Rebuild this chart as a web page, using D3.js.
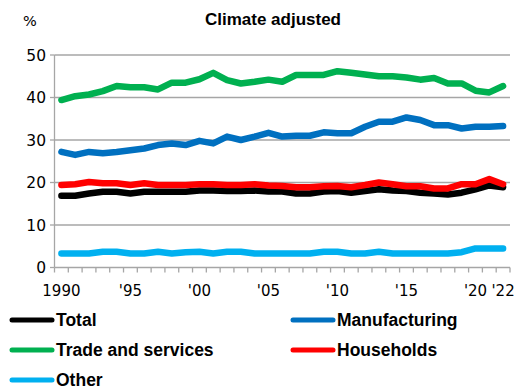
<!DOCTYPE html>
<html><head><meta charset="utf-8">
<script src="https://cdn.jsdelivr.net/npm/d3@7"></script>
<style>body{margin:0;background:#fff}svg{display:block}text{font-family:"DejaVu Sans",Verdana,sans-serif}.b{font-family:"Liberation Sans",Arial,sans-serif;font-weight:bold}</style>
</head><body><div id="c"></div>
<script>
const years = d3.range(1990, 2023);
const tickYears = [1990, 1995, 2000, 2005, 2010, 2015, 2020, 2022];
const tickLabels = ["1990", "'95", "'00", "'05", "'10", "'15", "'20", "'22"];
const yTicks = [0, 10, 20, 30, 40, 50];
const total = [16.9,16.9,17.4,17.8,17.8,17.4,17.8,17.8,17.8,17.8,18.1,18.1,18.0,18.0,18.1,17.9,17.9,17.4,17.4,17.9,18.0,17.6,18.0,18.4,18.1,18.0,17.6,17.4,17.2,17.6,18.4,19.3,18.9];
const manufacturing = [27.2,26.5,27.2,26.9,27.2,27.6,28.0,28.8,29.2,28.8,29.8,29.2,30.8,30.0,30.8,31.7,30.8,31.0,31.0,31.8,31.6,31.6,33.1,34.3,34.3,35.3,34.7,33.5,33.5,32.7,33.1,33.1,33.3];
const trade = [39.4,40.3,40.7,41.5,42.7,42.4,42.4,41.9,43.5,43.5,44.3,45.8,44.1,43.3,43.7,44.2,43.7,45.3,45.3,45.3,46.2,45.8,45.4,45.0,45.0,44.7,44.2,44.6,43.3,43.3,41.6,41.2,42.7];
const households = [19.4,19.6,20.1,19.8,19.8,19.4,19.8,19.4,19.4,19.4,19.6,19.6,19.4,19.4,19.6,19.3,19.2,18.9,18.9,19.1,19.2,18.9,19.4,20.0,19.6,19.1,19.1,18.6,18.6,19.6,19.6,20.8,19.6];
const other = [3.3,3.3,3.3,3.7,3.7,3.3,3.3,3.7,3.3,3.6,3.7,3.3,3.7,3.7,3.3,3.3,3.3,3.3,3.3,3.7,3.7,3.3,3.3,3.7,3.3,3.3,3.3,3.3,3.3,3.6,4.5,4.5,4.5];
const seriesNames = ["Total", "Manufacturing", "Trade and services", "Households", "Other"];
const seriesColors = ["#000000", "#0070c0", "#00b050", "#ff0000", "#00b0f0"];
const seriesData = [total, manufacturing, trade, households, other];

const W = 520, H = 392;
const svg = d3.select("#c").append("svg").attr("width", W).attr("height", H);
const x = d3.scaleBand().domain(years).range([54.5, 510]);
const y = d3.scaleLinear().domain([0, 50]).range([267.5, 55]);

svg.append("g").selectAll("line").data(yTicks).join("line")
  .attr("x1", 54.5).attr("x2", 510).attr("y1", d => y(d)).attr("y2", d => y(d))
  .attr("stroke", "#a6a6a6").attr("stroke-width", 1.3);
svg.append("line").attr("x1", 54.5).attr("x2", 54.5).attr("y1", y(50)).attr("y2", y(0))
  .attr("stroke", "#a6a6a6").attr("stroke-width", 1.3);
svg.append("g").selectAll("line").data(yTicks).join("line")
  .attr("x1", 50).attr("x2", 54.5).attr("y1", d => y(d)).attr("y2", d => y(d))
  .attr("stroke", "#a6a6a6").attr("stroke-width", 1.3);
svg.append("g").selectAll("text").data(yTicks).join("text")
  .attr("x", 46).attr("y", d => y(d)).attr("dy", "0.36em").attr("text-anchor", "end")
  .attr("font-size", 15.5).attr("fill", "#000").text(d => d);
const bounds = years.map(d => x(d)).concat([x(2022) + x.bandwidth()]);
svg.append("g").selectAll("line").data(bounds).join("line")
  .attr("x1", d => d).attr("x2", d => d).attr("y1", y(0)).attr("y2", y(0) + 5)
  .attr("stroke", "#a6a6a6").attr("stroke-width", 1.3);
svg.append("g").selectAll("text").data(tickYears).join("text")
  .attr("x", d => x(d) + x.bandwidth() / 2).attr("y", 296).attr("text-anchor", "middle")
  .attr("font-size", 15).attr("fill", "#000").text((d, i) => tickLabels[i]);

const line = d3.line().x((d, i) => x(years[i]) + x.bandwidth() / 2).y(d => y(d));
svg.append("g").selectAll("path").data(seriesData).join("path")
  .attr("d", d => line(d)).attr("fill", "none")
  .attr("stroke", (d, i) => seriesColors[i]).attr("stroke-width", 6.5)
  .attr("stroke-linejoin", "round").attr("stroke-linecap", "round");

svg.append("text").attr("class", "b").attr("x", 273).attr("y", 25).attr("text-anchor", "middle")
  .attr("font-size", 17).text("Climate adjusted");
svg.append("text").attr("x", 23).attr("y", 26).attr("font-size", 14.5).text("%");

const legPos = [[12, 320], [293, 320], [12, 350], [293, 350], [12, 380]];
const leg = svg.append("g").selectAll("g").data(seriesNames).join("g")
  .attr("transform", (d, i) => `translate(${legPos[i][0]},${legPos[i][1]})`);
leg.append("line").attr("x1", 0).attr("x2", 40).attr("y1", 0).attr("y2", 0)
  .attr("stroke", (d, i) => seriesColors[i]).attr("stroke-width", 5).attr("stroke-linecap", "round");
leg.append("text").attr("class", "b").attr("x", 44).attr("y", 0).attr("dy", "0.35em")
  .attr("font-size", 17.5).text(d => d);
</script></body></html>
